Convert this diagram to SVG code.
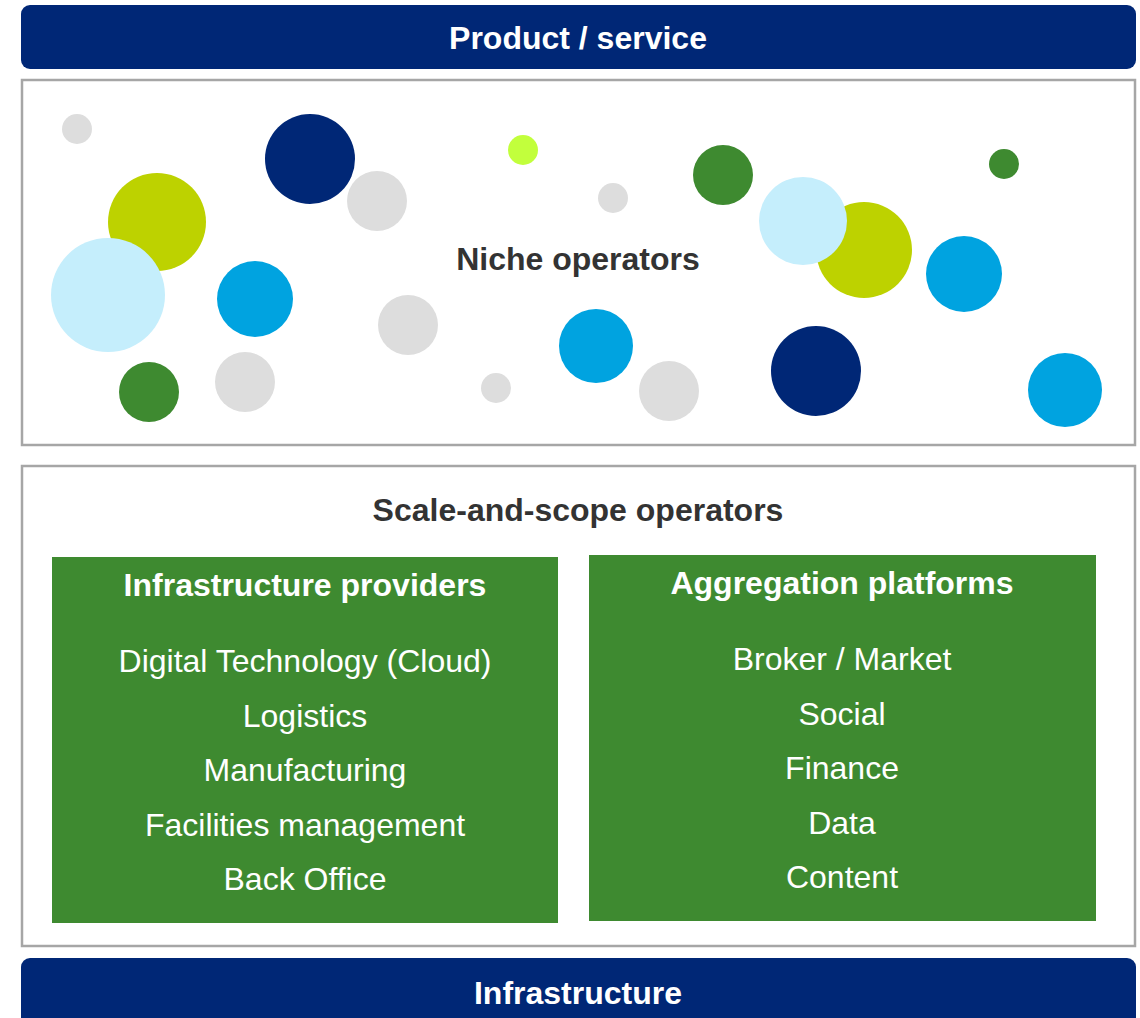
<svg xmlns="http://www.w3.org/2000/svg" width="1140" height="1018" viewBox="0 0 1140 1018">
<style>
.bar{fill:#002776}
.panel{fill:#ffffff;stroke:#a6a6a6;stroke-width:2.5}
.gbox{fill:#3e8a30}
.t{font-family:"Liberation Sans",Arial,sans-serif;text-anchor:middle}
.hw{font-weight:bold;font-size:32px;fill:#ffffff}
.hd{font-weight:bold;font-size:32px;fill:#333333}
.it{font-size:32px;fill:#ffffff}
.gray{fill:#dddddd}
.navy{fill:#002776}
.yg{fill:#bdd200}
.lb{fill:#c5eefc}
.blue{fill:#00a3e0}
.green{fill:#3e8a30}
.lime{fill:#c2ff3c}
</style>
<rect width="1140" height="1018" fill="#ffffff"/>
<g id="product-service">
<rect class="bar" x="21" y="5" width="1115" height="64" rx="9"/>
<text class="t hw" x="578" y="49">Product / service</text>
</g>
<g id="niche-operators">
<rect class="panel" x="22" y="80" width="1113" height="365"/>
<g id="bubbles">
<circle class="gray" cx="77" cy="129" r="15"/>
<circle class="gray" cx="377" cy="201" r="30"/>
<circle class="navy" cx="310" cy="159" r="45"/>
<circle class="yg" cx="157" cy="222" r="49"/>
<circle class="lb" cx="108" cy="295" r="57"/>
<circle class="blue" cx="255" cy="299" r="38"/>
<circle class="gray" cx="408" cy="325" r="30"/>
<circle class="green" cx="149" cy="392" r="30"/>
<circle class="gray" cx="245" cy="382" r="30"/>
<circle class="lime" cx="523" cy="150" r="15"/>
<circle class="gray" cx="613" cy="198" r="15"/>
<circle class="gray" cx="496" cy="388" r="15"/>
<circle class="blue" cx="596" cy="346" r="37"/>
<circle class="gray" cx="669" cy="391" r="30"/>
<circle class="green" cx="723" cy="175" r="30"/>
<circle class="yg" cx="864" cy="250" r="48"/>
<circle class="lb" cx="803" cy="221" r="44"/>
<circle class="blue" cx="964" cy="274" r="38"/>
<circle class="navy" cx="816" cy="371" r="45"/>
<circle class="green" cx="1004" cy="164" r="15"/>
<circle class="blue" cx="1065" cy="390" r="37"/>
</g>
<text class="t hd" x="578" y="270">Niche operators</text>
</g>
<g id="scale-and-scope">
<rect class="panel" x="22" y="466" width="1113" height="480"/>
<text class="t hd" x="578" y="521">Scale-and-scope operators</text>
</g>
<g id="infrastructure-providers">
<rect class="gbox" x="52" y="557" width="506" height="366"/>
<text class="t hw" x="305" y="596">Infrastructure providers</text>
<text class="t it" x="305" y="672">Digital Technology (Cloud)</text>
<text class="t it" x="305" y="727">Logistics</text>
<text class="t it" x="305" y="781">Manufacturing</text>
<text class="t it" x="305" y="836">Facilities management</text>
<text class="t it" x="305" y="890">Back Office</text>
</g>
<g id="aggregation-platforms">
<rect class="gbox" x="589" y="555" width="507" height="366"/>
<text class="t hw" x="842" y="594">Aggregation platforms</text>
<text class="t it" x="842" y="670">Broker / Market</text>
<text class="t it" x="842" y="725">Social</text>
<text class="t it" x="842" y="779">Finance</text>
<text class="t it" x="842" y="834">Data</text>
<text class="t it" x="842" y="888">Content</text>
</g>
<g id="infrastructure">
<rect class="bar" x="21" y="958" width="1115" height="70" rx="9"/>
<text class="t hw" x="578" y="1004">Infrastructure</text>
</g>
<g id="connectors"/>
</svg>
